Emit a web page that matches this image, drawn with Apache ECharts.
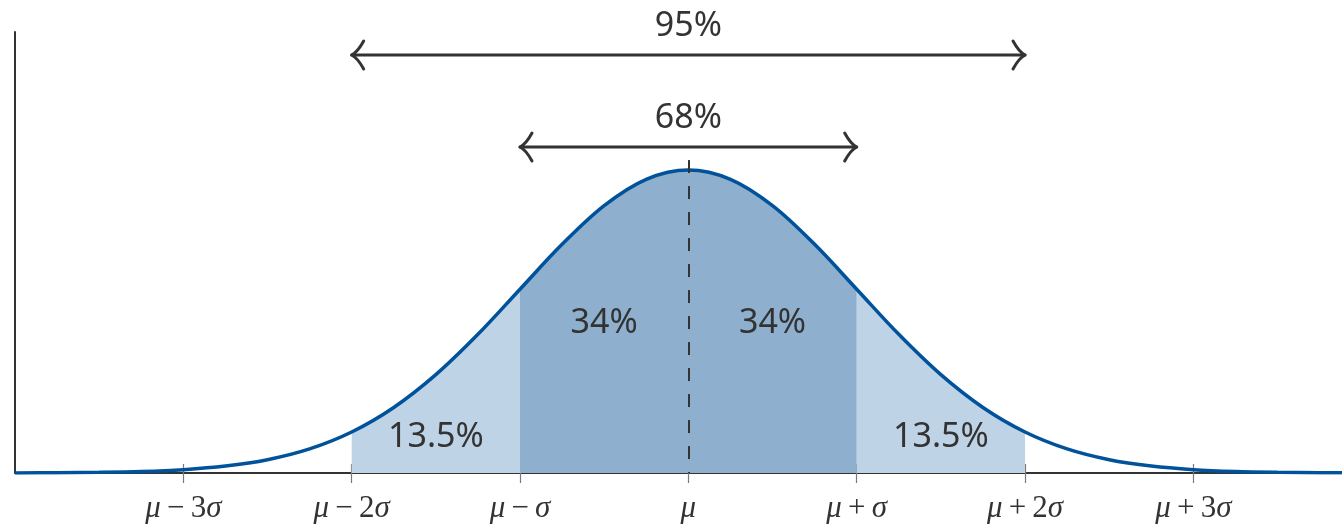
<!DOCTYPE html>
<html>
<head>
<meta charset="utf-8">
<title>Normal distribution – 68/95 rule</title>
<script src="https://cdn.jsdelivr.net/npm/echarts@6/dist/echarts.min.js"></script>
<style>
  html, body { margin: 0; padding: 0; background: #fff; }
  #chart { width: 1342px; height: 526px; }
</style>
</head>
<body>
<div id="chart"></div>
<script>
// Density curve, sampled in units of sigma from the mean
const xs = [-4, -3.75, -3.5, -3.25, -3, -2.75, -2.5, -2.25, -2, -1.75, -1.5, -1.25, -1, -0.75, -0.5, -0.25,
            0, 0.25, 0.5, 0.75, 1, 1.25, 1.5, 1.75, 2, 2.25, 2.5, 2.75, 3, 3.25, 3.5, 3.75, 4];
const density = [0.0001, 0.0004, 0.0009, 0.0020, 0.0044, 0.0091, 0.0175, 0.0317, 0.0540, 0.0863, 0.1295, 0.1826, 0.2420, 0.3011, 0.3521, 0.3867,
                 0.3989, 0.3867, 0.3521, 0.3011, 0.2420, 0.1826, 0.1295, 0.0863, 0.0540, 0.0317, 0.0175, 0.0091, 0.0044, 0.0020, 0.0009, 0.0004, 0.0001];

// Axis ticks and their labels
const tickValues = [-3, -2, -1, 0, 1, 2, 3];
const tickLabels = ['{i|μ}{r|\u2009−\u20093}{i|σ}', '{i|μ}{r|\u2009−\u20092}{i|σ}', '{i|μ}{r|\u2009−\u2009}{i|σ}', '{i|μ}',
                    '{i|μ}{r|\u2009+\u2009}{i|σ}', '{i|μ}{r|\u2009+\u20092}{i|σ}', '{i|μ}{r|\u2009+\u20093}{i|σ}'];

// Shaded bands: [from, to]
const outerBands = [[-2, -1], [1, 2]];
const innerBand = [-1, 1];

// Share of the area in each band, placed at the band middle
const bandLabels = [
  { x: -1.5, y: 0.047, text: '13.5%' },
  { x: -0.5, y: 0.197, text: '34%' },
  { x: 0.5, y: 0.197, text: '34%' },
  { x: 1.5, y: 0.047, text: '13.5%' }
];

// Range arrows: from, to, height, text
const ranges = [
  { from: -2, to: 2, y: 0.5503, text: '95%' },
  { from: -1, to: 1, y: 0.4292, text: '68%' }
];

const meanLineTop = 0.412;

const LINE = '#00529A';
const LIGHT = '#BED3E5';
const DARK = '#8EB0CE';
const INK = '#333333';
const TICK = '#7a7a7a';
const TEXT_FONT = '"Noto Sans", "Open Sans", sans-serif';

function pairs(lo, hi) {
  const out = [];
  xs.forEach((x, i) => { if (x >= lo - 1e-9 && x <= hi + 1e-9) out.push([x, density[i]]); });
  return out;
}

function bandSeries(range, color) {
  return {
    type: 'line',
    data: pairs(range[0], range[1]),
    smooth: 0.35,
    symbol: 'none',
    lineStyle: { width: 0, opacity: 0 },
    areaStyle: { color: color, opacity: 1 },
    z: 1,
    silent: true
  };
}

const chart = echarts.init(document.getElementById('chart'), null, { renderer: 'canvas' });

const series = [];
outerBands.forEach(b => series.push(bandSeries(b, LIGHT)));
series.push(bandSeries(innerBand, DARK));

// The density curve itself, with the dashed mean marker (drawn top-down)
series.push({
  type: 'line',
  data: xs.map((x, i) => [x, density[i]]),
  smooth: 0.35,
  symbol: 'none',
  lineStyle: { color: LINE, width: 3.5 },
  z: 4,
  markLine: {
    silent: true,
    symbol: 'none',
    label: { show: false },
    lineStyle: { color: INK, type: [13, 13], width: 2 },
    data: [[{ coord: [0, meanLineTop] }, { coord: [0, 0] }]]
  }
});

// Percentages inside the bands
series.push({
  type: 'custom',
  data: bandLabels.map(d => [d.x, d.y, d.text]),
  z: 6,
  silent: true,
  renderItem: function (params, api) {
    const p = api.coord([api.value(0), api.value(1)]);
    return {
      type: 'text',
      style: {
        text: bandLabels[params.dataIndex].text,
        x: p[0], y: p[1],
        align: 'center', verticalAlign: 'middle',
        fontSize: 34, fontFamily: TEXT_FONT, fill: INK
      }
    };
  }
});

// Double-headed range arrows with their captions
function chevron(tip, dir) {
  const arm = (sgn) => ({
    type: 'bezierCurve',
    shape: {
      x1: tip[0], y1: tip[1],
      cpx1: tip[0] + dir * 6, cpy1: tip[1] + sgn * 3,
      x2: tip[0] + dir * 12, y2: tip[1] + sgn * 14
    },
    style: { stroke: INK, lineWidth: 3, fill: null, lineCap: 'round' }
  });
  return [arm(-1), arm(1)];
}

series.push({
  type: 'custom',
  data: ranges.map(r => [r.from, r.to, r.y]),
  z: 6,
  silent: true,
  clip: false,
  renderItem: function (params, api) {
    const a = api.coord([api.value(0), api.value(2)]);
    const b = api.coord([api.value(1), api.value(2)]);
    const children = [
      {
        type: 'line',
        shape: { x1: a[0] + 2, y1: a[1], x2: b[0] - 2, y2: b[1] },
        style: { stroke: INK, lineWidth: 3 }
      }
    ].concat(chevron(a, 1), chevron(b, -1));
    children.push({
      type: 'text',
      style: {
        text: ranges[params.dataIndex].text,
        x: (a[0] + b[0]) / 2, y: a[1] - 29,
        align: 'center', verticalAlign: 'middle',
        fontSize: 34, fontFamily: TEXT_FONT, fill: INK
      }
    });
    return { type: 'group', children: children };
  }
});

const labelRich = {
  i: { fontFamily: '"Liberation Serif", serif', fontStyle: 'italic', fontSize: 31, color: INK },
  r: { fontFamily: '"Liberation Serif", serif', fontSize: 31, color: INK }
};

chart.setOption({
  animation: false,
  backgroundColor: '#ffffff',
  grid: { left: 15, right: 0, top: 32, bottom: 53 },
  xAxis: [
    {
      type: 'value',
      min: -4, max: 3.883,
      interval: 1,
      axisLine: { show: true, onZero: false, lineStyle: { color: INK, width: 2 } },
      axisTick: { show: true, customValues: tickValues, length: 10, lineStyle: { color: TICK, width: 1.2 } },
      axisLabel: {
        show: true,
        customValues: tickValues,
        margin: 20,
        formatter: function (v) {
          const k = tickValues.findIndex(t => Math.abs(t - v) < 1e-6);
          return k >= 0 ? tickLabels[k] : '';
        },
        rich: labelRich
      },
      splitLine: { show: false }
    },
    {
      type: 'value',
      position: 'bottom',
      min: -4, max: 3.883,
      interval: 1,
      axisLine: { show: false, onZero: false },
      axisTick: { show: true, inside: true, customValues: tickValues, length: 9, lineStyle: { color: TICK, width: 1.2 } },
      axisLabel: { show: false },
      splitLine: { show: false }
    }
  ],
  yAxis: {
    type: 'value',
    min: 0, max: 0.5806,
    axisLine: { show: true, onZero: false, lineStyle: { color: INK, width: 2 } },
    axisTick: { show: false },
    axisLabel: { show: false },
    splitLine: { show: false }
  },
  series: series
});
</script>
</body>
</html>
